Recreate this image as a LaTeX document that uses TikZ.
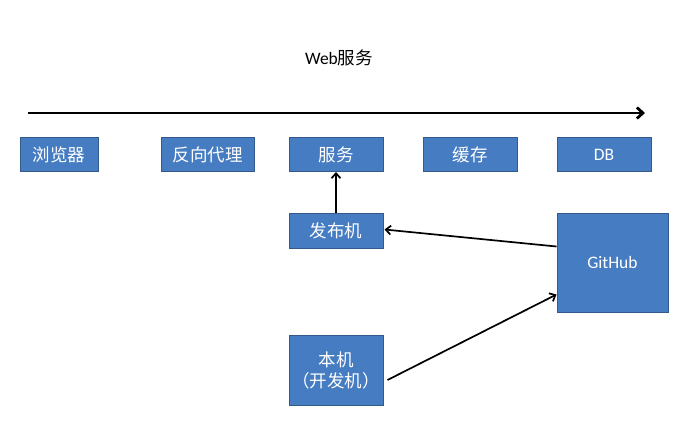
\documentclass[tikz,border=0pt]{standalone}
\usepackage{fontspec}
\setmainfont{Carlito}
\newfontfamily\cjk{Noto Sans CJK SC}
\usepackage{xcolor}
\usepackage{tikz}
\usetikzlibrary{calc}
\usetikzlibrary{arrows.meta,positioning}
\definecolor{boxblue}{RGB}{70,124,194}
\definecolor{boxline}{RGB}{52,90,140}
\tikzset{
	box/.style={draw=boxline,fill=boxblue,text=white,line width=1pt,inner sep=0pt,minimum width=94pt,minimum height=34pt,font=\fontsize{17.5}{21}\selectfont,align=center},
	flow/.style={-{Straight Barb[length=5pt,width=9pt]},line width=1.7pt,black}
}
\begin{document}
\begin{tikzpicture}[x=1pt,y=-1pt]
	\useasboundingbox (0,0) rectangle (697,431);
	\node (title) at (339,58) {\fontsize{17.5}{21}\selectfont Web{\cjk 服务}};
	\coordinate (start) at (28,113);
	\coordinate (end) at (645,113);
	\draw [-{Straight Barb[length=6pt,width=11pt]},line width=2.8pt](start) -- (end);
	\node[box,minimum width=78pt] (browser) at (59,154.5) {\cjk 浏览器};
	\node[box,minimum width=93pt] (proxy) at (207.5,154.5) {\cjk 反向代理};
	\node[box] (service) at (336,154.5) {\cjk 服务};
	\node[box] (cache) at (470,154.5) {\cjk 缓存};
	\node[box] (db) at (604,154.5) {DB};
	\node[box,minimum height=35pt] (publisher) at (336,230.5) {\cjk 发布机};
	\node[box,minimum width=111pt,minimum height=99pt] (github) at (612.5,262.5) {GitHub};
	\node[box,minimum height=70pt] (local) at (336,370) {\cjk 本机\\\cjk （开发机）};
	\draw [flow](publisher) -- (service);
	\draw [flow]($(github.west)+(0,-16)$) -- ($(publisher.east)+(1,-1)$);
	\draw [flow]($(local.east)+(4,10)$) -- ($(github.west)+(0,32)$);
\end{tikzpicture}
\end{document}
